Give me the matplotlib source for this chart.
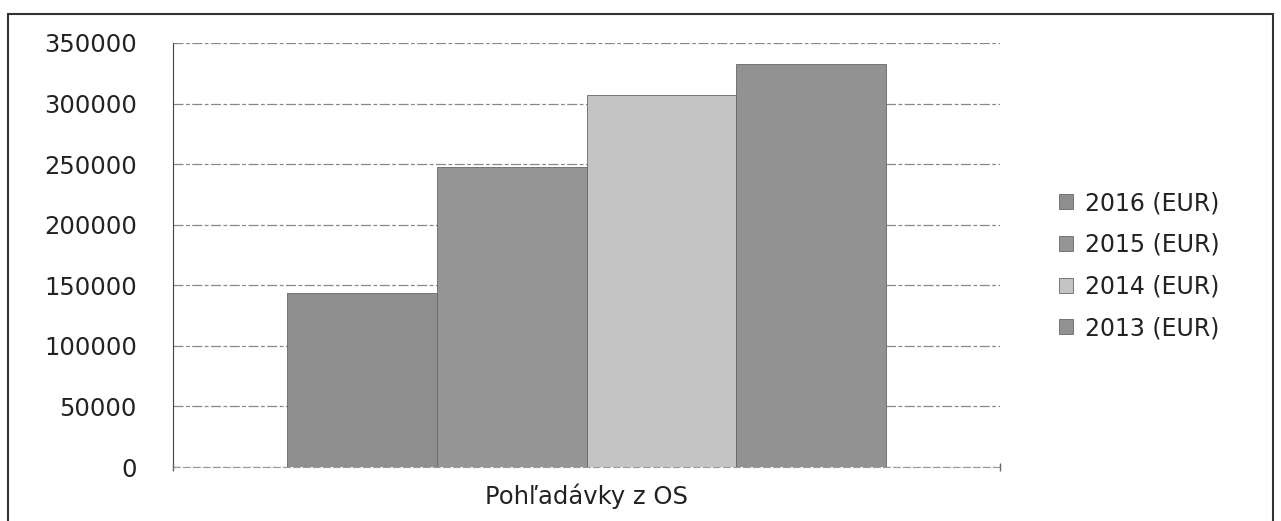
import matplotlib.pyplot as plt
import numpy as np
from matplotlib.patches import Rectangle

# data
category = "Pohľadávky z OS"
series = ["2016 (EUR)", "2015 (EUR)", "2014 (EUR)", "2013 (EUR)"]
values = [144000, 248000, 307000, 333000]
colors = ["#8f8f8f", "#959595", "#c4c4c4", "#929292"]

fig = plt.figure(figsize=(12.81, 5.21), dpi=100)
ax = fig.add_axes([0.135, 0.1036, 0.646, 0.814])

width = 0.181
offsets = (np.arange(len(series)) - (len(series) - 1) / 2) * width
for off, v, c, s in zip(offsets, values, colors, series):
    ax.bar(off, v, width=width, color=c, edgecolor="#666666", linewidth=0.6,
           label=s, zorder=3)

ax.set_xlim(-0.5, 0.5)
ax.set_ylim(0, 350000)
ax.set_yticks(np.arange(0, 350001, 50000))
ax.set_xticks([0])
ax.set_xticklabels([category])
ax.tick_params(axis="both", labelsize=17.5, colors="#222222", length=0)
ax.tick_params(axis="y", pad=26)
ax.tick_params(axis="x", pad=12)
ax.grid(axis="y", linestyle=(0, (8, 2, 3, 2)), color="#888888", linewidth=0.9, zorder=0)

for sp in ["top", "right"]:
    ax.spines[sp].set_visible(False)
ax.spines["left"].set_color("#444444")
ax.spines["bottom"].set_color("#999999")
ax.spines["bottom"].set_linestyle((0, (6, 3)))

# small ticks at both ends of the category axis
ax.plot([-0.5, 0.5], [0, 0], linestyle="none", marker="|", markersize=6,
        color="#666666", clip_on=False, zorder=4)

leg = ax.legend(loc="center left", bbox_to_anchor=(1.045, 0.475), frameon=False,
                fontsize=17, handlelength=0.6, handleheight=0.6,
                handletextpad=0.5, labelspacing=0.75)
for t in leg.get_texts():
    t.set_color("#222222")

# outer frame
fig.patches.append(Rectangle((0.006, -0.01), 0.988, 0.983, transform=fig.transFigure,
                             fill=False, edgecolor="#333333", linewidth=1.5))

fig.savefig("out.png", dpi=100)
